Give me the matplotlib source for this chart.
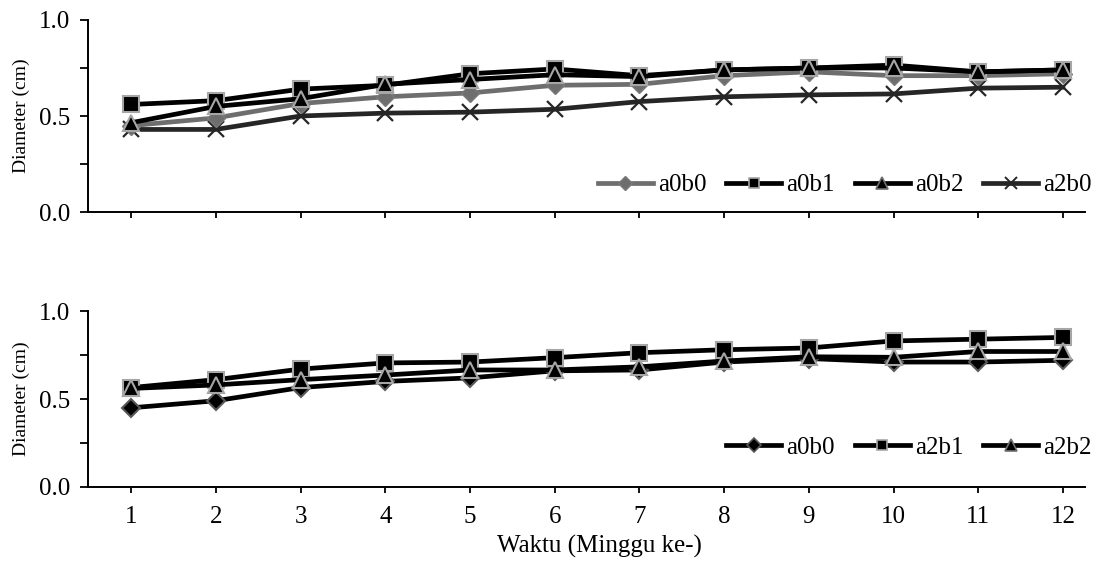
import matplotlib
matplotlib.use("Agg")
import matplotlib.pyplot as plt
from matplotlib.lines import Line2D
from matplotlib.ticker import MultipleLocator, FormatStrFormatter

plt.rcParams["font.family"] = ["Liberation Serif", "DejaVu Serif"]

WEEKS = list(range(1, 13))

# top panel
A0B0 = [0.45, 0.49, 0.565, 0.60, 0.62, 0.66, 0.665, 0.71, 0.73, 0.71, 0.71, 0.72]
A0B1 = [0.56, 0.58, 0.64, 0.66, 0.72, 0.745, 0.71, 0.74, 0.75, 0.765, 0.73, 0.74]
A0B2 = [0.465, 0.55, 0.59, 0.665, 0.69, 0.715, 0.705, 0.74, 0.75, 0.75, 0.73, 0.74]
A2B0 = [0.43, 0.43, 0.50, 0.515, 0.52, 0.535, 0.575, 0.60, 0.61, 0.615, 0.645, 0.65]

# bottom panel
A2B1 = [0.565, 0.61, 0.67, 0.705, 0.71, 0.735, 0.763, 0.78, 0.79, 0.83, 0.84, 0.85]
A2B2 = [0.56, 0.58, 0.61, 0.636, 0.665, 0.665, 0.683, 0.716, 0.74, 0.737, 0.77, 0.77]

GREY_EDGE = "#a6a6a6"
FS = 18

fig = plt.figure(figsize=(10.97, 5.66), dpi=100)
ax1 = fig.add_axes([0.0802, 0.6254, 0.9088, 0.3393])
ax2 = fig.add_axes([0.0802, 0.1396, 0.9088, 0.3109])

LW = 3.4
MS = 11

# --- top panel ---
ax1.plot(WEEKS, A0B0, color="#6e6e6e", lw=LW, marker="D", ms=9,
         mfc="#6e6e6e", mec="#7a7a7a", zorder=3)
ax1.plot(WEEKS, A2B0, color="#262626", lw=LW, marker="x", ms=12,
         mew=1.6, mec="#262626", zorder=2)
ax1.plot(WEEKS, A0B1, color="black", lw=LW, marker="s", ms=MS,
         mfc="black", mec=GREY_EDGE, mew=1.5, zorder=4)
ax1.plot(WEEKS, A0B2, color="black", lw=LW, marker="^", ms=MS + 1,
         mfc="black", mec=GREY_EDGE, mew=1.5, zorder=5)

h_top = [
    Line2D([0], [0], color="#6e6e6e", lw=LW, marker="D", ms=7,
           mfc="#6e6e6e", mec="#7a7a7a"),
    Line2D([0], [0], color="black", lw=LW, marker="s", ms=7,
           mfc="black", mec=GREY_EDGE, mew=1.2),
    Line2D([0], [0], color="black", lw=LW, marker="^", ms=8,
           mfc="black", mec="#707070", mew=1.2),
    Line2D([0], [0], color="#262626", lw=LW, marker="x", ms=8,
           mew=1.4, mec="#262626"),
]
ax1.legend(h_top, ["a0b0", "a0b1", "a0b2", "a2b0"], ncol=4, frameon=False,
           loc="lower right", bbox_to_anchor=(1.022, 0.004), fontsize=FS,
           handlelength=2.2, handletextpad=0.2, columnspacing=0.8,
           borderaxespad=0.2)

# --- bottom panel ---
ax2.plot(WEEKS, A0B0, color="black", lw=LW, marker="D", ms=9,
         mfc="black", mec="#5a5a5a", mew=1.5, zorder=3)
ax2.plot(WEEKS, A2B1, color="black", lw=LW, marker="s", ms=MS,
         mfc="black", mec=GREY_EDGE, mew=1.5, zorder=4)
ax2.plot(WEEKS, A2B2, color="black", lw=LW, marker="^", ms=MS + 1,
         mfc="black", mec=GREY_EDGE, mew=1.5, zorder=5)

h_bot = [
    Line2D([0], [0], color="black", lw=LW, marker="D", ms=7,
           mfc="black", mec="#5a5a5a", mew=1.2),
    Line2D([0], [0], color="black", lw=LW, marker="s", ms=7,
           mfc="black", mec=GREY_EDGE, mew=1.2),
    Line2D([0], [0], color="black", lw=LW, marker="^", ms=8,
           mfc="black", mec="#707070", mew=1.2),
]
ax2.legend(h_bot, ["a0b0", "a2b1", "a2b2"], ncol=3, frameon=False,
           loc="lower right", bbox_to_anchor=(1.022, 0.073), fontsize=FS,
           handlelength=2.2, handletextpad=0.2, columnspacing=0.8,
           borderaxespad=0.2)

for ax in (ax1, ax2):
    ax.set_xlim(0.49, 12.26)
    ax.set_ylim(0, 1.0)
    ax.set_xticks(WEEKS)
    ax.yaxis.set_major_locator(MultipleLocator(0.5))
    ax.yaxis.set_minor_locator(MultipleLocator(0.25))
    ax.yaxis.set_major_formatter(FormatStrFormatter("%.1f"))
    ax.tick_params(axis="y", which="both", direction="out", length=6,
                   width=1.3, labelsize=FS, pad=7)
    ax.tick_params(axis="x", direction="out", length=4, width=1.3,
                   labelsize=FS, pad=10)
    for sp in ("top", "right"):
        ax.spines[sp].set_visible(False)
    for sp in ("left", "bottom"):
        ax.spines[sp].set_linewidth(1.4)
    ax.set_ylabel("Diameter (cm)", fontsize=14, labelpad=6)

ax1.tick_params(axis="x", labelbottom=False)
ax2.set_xlabel("Waktu (Minggu ke-)", fontsize=FS)
ax2.xaxis.set_label_coords(0.513, -0.27)

fig.savefig("out.png", dpi=100)
